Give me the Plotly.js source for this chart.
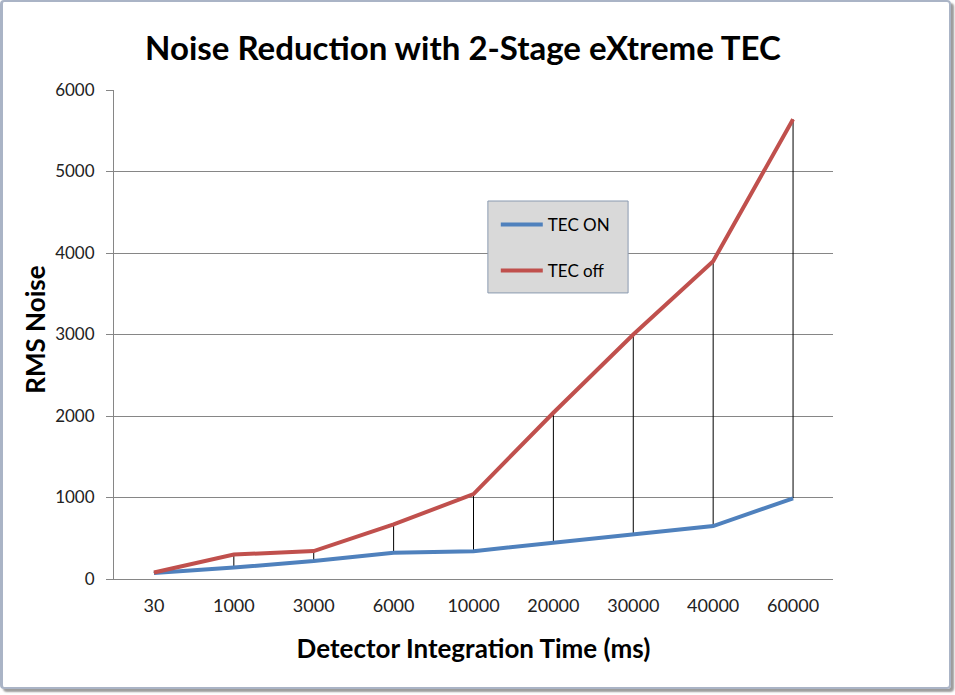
<!DOCTYPE html>
<html>
<head>
<meta charset="utf-8">
<script src="https://cdn.plot.ly/plotly-3.0.1.min.js"></script>
<style>
  body { margin: 0; background: #fff; }
  #wrap { position: relative; width: 955px; height: 695px; }
  #chart { position: absolute; left: 0; top: 0; width: 955px; height: 695px; }
  #frame {
    position: absolute; left: 0; top: 0; width: 946px; height: 685px;
    border: 2px solid #aab4c6; border-left-width: 3px;
    border-radius: 4px; box-shadow: 3px 3px 2px #9c9c9c;
    pointer-events: none;
  }
</style>
</head>
<body>
<div id="wrap">
  <div id="chart"></div>
  <div id="frame"></div>
</div>
<script>
// integration times (category labels)
const times = ['30', '1000', '3000', '6000', '10000', '20000', '30000', '40000', '60000'];
const tecOn = [75, 140, 220, 322, 342, 448, 550, 650, 990];
const tecOff = [80, 300, 343, 670, 1042, 2040, 3000, 3900, 5640];

// black drop lines between the two series
let dropX = [];
let dropY = [];
for (let i = 0; i < times.length; i++) {
    dropX.push(times[i], times[i], null);
    dropY.push(tecOn[i], tecOff[i], null);
}

let data = [
    {
        x: dropX, y: dropY,
        mode: 'lines',
        line: { color: '#000000', width: 1 },
        showlegend: false,
        hoverinfo: 'skip'
    },
    {
        x: times, y: tecOn,
        name: 'TEC ON',
        mode: 'lines',
        legendgroup: 'a',
        line: { color: '#4F81BD', width: 4 }
    },
    {
        x: times, y: tecOff,
        name: 'TEC off',
        mode: 'lines',
        legendgroup: 'b',
        line: { color: '#C0504D', width: 4 }
    }
];

let titleFont = { family: 'Lato, sans-serif', size: 26, color: '#000000', weight: 'bold' };

let layout = {
    width: 955,
    height: 695,
    margin: { l: 114, r: 122, t: 90, b: 116 },
    paper_bgcolor: '#ffffff',
    plot_bgcolor: '#ffffff',
    font: { family: 'Lato, sans-serif', size: 17, color: '#222222' },
    title: {
        text: 'Noise Reduction with 2-Stage eXtreme TEC',
        font: { family: 'Lato, sans-serif', size: 33, color: '#000000', weight: 'bold' },
        x: 463 / 955, xref: 'container', xanchor: 'center',
        y: 1 - 48 / 695, yref: 'container', yanchor: 'middle'
    },
    xaxis: {
        type: 'category',
        range: [-0.5, times.length - 0.5],
        showgrid: false,
        showline: true,
        linecolor: '#868686',
        ticks: '',
        ticklabelstandoff: 10,
        tickfont: { size: 18 },
        zeroline: false,
        title: {
            text: 'Detector Integration Time (ms)',
            font: titleFont,
            standoff: 25
        }
    },
    yaxis: {
        range: [0, 6000],
        dtick: 1000,
        showgrid: true,
        gridcolor: '#868686',
        gridwidth: 1,
        showline: true,
        linecolor: '#868686',
        ticks: 'outside',
        ticklen: 7,
        tickcolor: '#868686',
        ticklabelstandoff: 8,
        zeroline: false,
        title: { text: '' }
    },
    // y title placed by hand, the axis title would not move closer
    annotations: [
        {
            text: 'RMS Noise',
            xref: 'paper', yref: 'paper',
            x: -0.111, y: 0.51,
            xanchor: 'center', yanchor: 'middle',
            textangle: -90,
            showarrow: false,
            font: titleFont
        }
    ],
    // grey legend box, drawn as a shape so it can be sized like the original
    shapes: [
        {
            type: 'rect', xref: 'paper', yref: 'paper',
            x0: 0.520, x1: 0.715, y0: 0.585, y1: 0.773,
            fillcolor: '#d9d9d9',
            line: { color: '#8a9ab0', width: 1 },
            layer: 'above'
        }
    ],
    legend: {
        x: 0.531, y: 0.761,
        xanchor: 'left', yanchor: 'top',
        bgcolor: 'rgba(0,0,0,0)',
        borderwidth: 0,
        font: { family: 'Lato, sans-serif', size: 17, color: '#000000' },
        traceorder: 'grouped',
        tracegroupgap: 21,
        itemwidth: 42
    },
    showlegend: true
};

Plotly.newPlot('chart', data, layout, { staticPlot: true });
</script>
</body>
</html>
